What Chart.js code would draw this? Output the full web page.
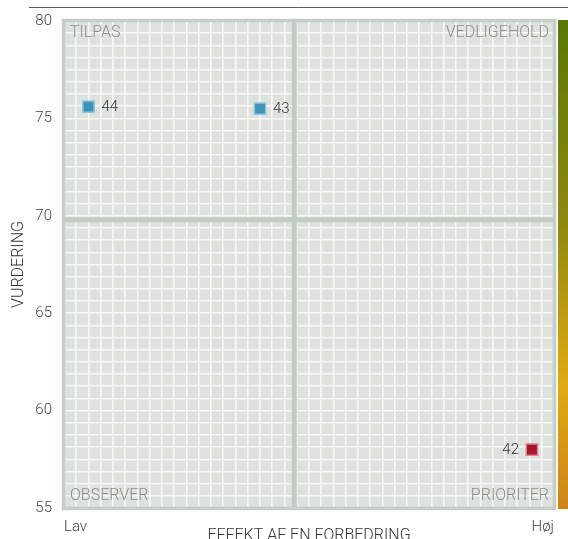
<!DOCTYPE html>
<html>
<head>
<meta charset="utf-8">
<script src="https://cdn.jsdelivr.net/npm/chart.js@4/dist/chart.umd.min.js"></script>
<style>
  html, body { margin: 0; padding: 0; overflow: hidden; background: #fff; }
  #wrap { position: relative; width: 568px; height: 548px; }
</style>
</head>
<body>
<div id="wrap"><canvas id="chartMatrix"></canvas></div>
<script>
// punkter i matrixen
const ids = ['44', '43', '42'];
const effekt = [5, 40, 95.5];
const vurdering = [75.6, 75.5, 58];
const pointColors = ['#3e93b6', '#3e93b6', '#a3162e'];
const pointBorders = ['#93c6da', '#93c6da', '#dc7d8c'];

// kvadranter
const quadrants = ['TILPAS', 'VEDLIGEHOLD', 'OBSERVER', 'PRIORITER'];
const xEnds = ['Lav', 'Høj'];
const yMin = 55, yMax = 80;
const xMid = 47, yMid = 69.8;

const FONT = 'Roboto';

const near = (a, b) => Math.abs(a - b) < 1e-6;

// baggrund, skillelinjer, ramme, tekster og farvebjælke
const matrixPlugin = {
  id: 'matrix',
  beforeDraw(chart) {
    const { ctx, chartArea: a } = chart;
    ctx.save();
    ctx.fillStyle = '#dee2df';
    ctx.fillRect(a.left, a.top, a.right - a.left, a.bottom - a.top);
    // linje i toppen
    ctx.strokeStyle = '#5a5a5a';
    ctx.lineWidth = 1;
    ctx.beginPath();
    ctx.moveTo(29, 7.5);
    ctx.lineTo(chart.width, 7.5);
    ctx.stroke();
    ctx.restore();
  },
  beforeDatasetsDraw(chart) {
    const { ctx, chartArea: a, scales } = chart;
    const mx = scales.x.getPixelForValue(xMid);
    const my = scales.y.getPixelForValue(yMid);
    ctx.save();
    ctx.strokeStyle = '#c2ccc3';
    ctx.lineWidth = 5;
    ctx.beginPath();
    ctx.moveTo(mx, a.top); ctx.lineTo(mx, a.bottom);
    ctx.moveTo(a.left, my); ctx.lineTo(a.right, my);
    ctx.stroke();
    ctx.strokeStyle = '#c6cfc6';
    ctx.lineWidth = 3.5;
    ctx.strokeRect(a.left - 0.5, a.top - 0.5, a.right - a.left + 1, a.bottom - a.top + 1);

    ctx.fillStyle = '#8a8f8b';
    ctx.font = '300 16px ' + FONT;
    ctx.textBaseline = 'middle';
    ctx.textAlign = 'left';
    ctx.fillText(quadrants[0], a.left + 6, a.top + 12);
    ctx.fillText(quadrants[2], a.left + 6, a.bottom - 12);
    ctx.textAlign = 'right';
    ctx.fillText(quadrants[1], a.right - 5, a.top + 12);
    ctx.fillText(quadrants[3], a.right - 5, a.bottom - 12);

    // farvebjælke til højre
    const gx = a.right + 4;
    const grad = ctx.createLinearGradient(0, a.top, 0, a.bottom);
    grad.addColorStop(0, '#5a7806');
    grad.addColorStop(0.4, '#8c870e');
    grad.addColorStop(0.75, '#e1aa14');
    grad.addColorStop(1, '#ce8419');
    ctx.fillStyle = grad;
    ctx.fillRect(gx, a.top - 1, chart.width - gx, a.bottom - a.top + 2);
    ctx.restore();
  },
  afterDatasetsDraw(chart) {
    const { ctx, chartArea: a } = chart;
    const meta = chart.getDatasetMeta(0);
    const centre = (a.left + a.right) / 2;
    ctx.save();
    ctx.fillStyle = '#333';
    ctx.font = '300 15px ' + FONT;
    ctx.textBaseline = 'middle';
    meta.data.forEach((pt, i) => {
      if (pt.x > centre) {
        ctx.textAlign = 'right';
        ctx.fillText(ids[i], pt.x - 13, pt.y + 1);
      } else {
        ctx.textAlign = 'left';
        ctx.fillText(ids[i], pt.x + 13, pt.y + 1);
      }
    });
    ctx.restore();
  }
};

const ctx = document.getElementById('chartMatrix');
const chartMatrix = new Chart(ctx, {
  type: 'scatter',
  data: {
    datasets: [{
      label: 'Vurdering',
      data: effekt.map((x, i) => ({ x: x, y: vurdering[i] })),
      pointStyle: 'rect',
      pointRadius: 8,
      pointHoverRadius: 8,
      borderWidth: 1.5,
      backgroundColor: pointColors,
      borderColor: pointBorders
    }]
  },
  options: {
    responsive: true,
    maintainAspectRatio: false,
    animation: false,
    layout: { padding: { top: 20, right: 14, left: 0, bottom: 0 } },
    plugins: {
      legend: { display: false },
      tooltip: { enabled: false }
    },
    scales: {
      x: {
        min: 0,
        max: 100,
        afterFit(scale) { scale.height = 40; },
        border: { display: false },
        grid: { color: '#f5f8f6', lineWidth: 1.6, drawTicks: false },
        ticks: {
          stepSize: 2.5,
          autoSkip: false,
          maxRotation: 0,
          align: 'inner',
          padding: 10,
          color: '#444',
          font: { family: FONT, size: 15, weight: '300' },
          callback: (v) => near(v, 0) ? xEnds[0] : (near(v, 100) ? xEnds[1] : '')
        },
        title: {
          display: true,
          text: 'EFFEKT AF EN FORBEDRING',
          color: '#333',
          padding: { top: 0, bottom: 2 },
          font: { family: FONT, size: 16, weight: '300' }
        }
      },
      y: {
        min: yMin,
        max: yMax,
        afterFit(scale) { scale.width = 64; },
        border: { display: false },
        grid: { color: '#f5f8f6', lineWidth: 1.6, drawTicks: false },
        ticks: {
          stepSize: 0.625,
          autoSkip: false,
          padding: 12,
          color: '#444',
          font: { family: FONT, size: 15, weight: '300' },
          callback: (v) => near(v / 5, Math.round(v / 5)) ? Math.round(v) : ''
        },
        title: {
          display: true,
          text: 'VURDERING',
          color: '#333',
          padding: { top: 9, bottom: 0 },
          font: { family: FONT, size: 16, weight: '300' }
        }
      }
    }
  },
  plugins: [matrixPlugin]
});
</script>
</body>
</html>
